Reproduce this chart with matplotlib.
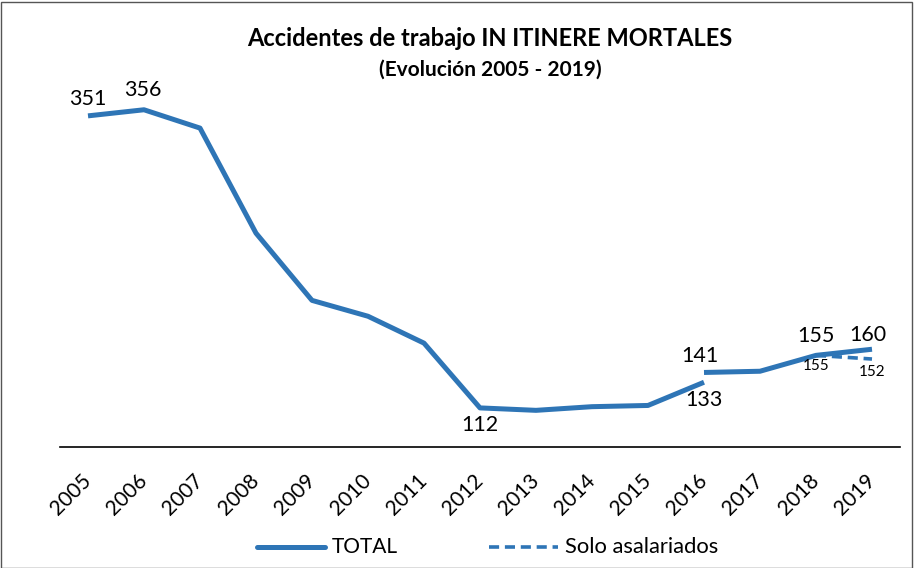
import matplotlib
matplotlib.use("Agg")
import matplotlib.pyplot as plt
from matplotlib.patches import Rectangle
from matplotlib.transforms import ScaledTranslation

years = [str(y) for y in range(2005, 2020)]
total_a = [351, 356, 341, 255, 200, 187, 165, 112, 110, 113, 114, 133]   # 2005-2016
total_b = [141, 142, 155, 160]                                           # 2016-2019
asal = [155, 152]                                                        # 2018-2019

color = "#2E75B6"
font = ["Lato", "DejaVu Sans"]
plt.rcParams['font.family'] = font

fig = plt.figure(figsize=(9.14, 5.68), dpi=100)
ax = fig.add_axes([60/914, 1-447/568, 840/914, (447-56)/568])

dash = (0, (2.8, 1.6))
xa = list(range(0, 12))
xb = list(range(11, 15))
xs = [13, 14]
ax.plot(xa, total_a, color=color, lw=3.6, solid_capstyle='butt')
ax.plot(xb, total_b, color=color, lw=3.6, solid_capstyle='butt')
ax.plot(xs, asal, color=color, lw=2.6, ls=dash)

ax.set_xlim(-0.5, 14.5)
ax.set_ylim(80, 400)
ax.set_xticks(range(15))
ax.set_xticklabels(years, rotation=45, fontsize=15, ha='right', va='center',
                   rotation_mode='anchor')
off = ScaledTranslation(5/100, 0, fig.dpi_scale_trans)
for t in ax.get_xticklabels():
    t.set_transform(t.get_transform() + off)
ax.tick_params(axis='x', length=0, pad=22)
ax.set_yticks([])
for s in ['top', 'right', 'left']:
    ax.spines[s].set_visible(False)
ax.spines['bottom'].set_linewidth(1.2)
ax.spines['bottom'].set_color('black')

def lab(x, y, t, dx, dy, size=15.5):
    ax.annotate(t, (x, y), xytext=(dx, dy), textcoords='offset points',
                ha='center', va='center', fontsize=size)

lab(0, 351, "351", 0, 12)
lab(1, 356, "356", -1, 14)
lab(7, 112, "112", 0, -12.5)
lab(11, 133, "133", 0, -13)
lab(11, 141, "141", -3, 11.5)
lab(13, 155, "155", 0, 14)
lab(14, 160, "160", -3, 10)
lab(13, 155, "155", 0, -8, size=11)
lab(14, 152, "152", 0, -9, size=11)

fig.text(490/914, 1-38/568, "Accidentes de trabajo IN ITINERE MORTALES",
         ha='center', va='center', fontsize=17, fontweight='bold')
fig.text(490/914, 1-70/568, "(Evolución 2005 - 2019)",
         ha='center', va='center', fontsize=15, fontweight='bold')

# legend
ly = 1-547/568
fig.add_artist(plt.Line2D([257/914, 325/914], [ly, ly], color=color, lw=3.6,
                          solid_capstyle='round'))
fig.text(332/914, ly, "TOTAL", ha='left', va='center', fontsize=15)
fig.add_artist(plt.Line2D([489/914, 558/914], [ly, ly], color=color, lw=2.6,
                          ls=dash))
fig.text(565/914, ly, "Solo asalariados", ha='left', va='center', fontsize=15.8)

fig.add_artist(Rectangle((1/914, 0), 911/914, 1-2/568, transform=fig.transFigure,
                         fill=False, edgecolor='#555555', lw=1))

fig.savefig("out.png", dpi=100)
